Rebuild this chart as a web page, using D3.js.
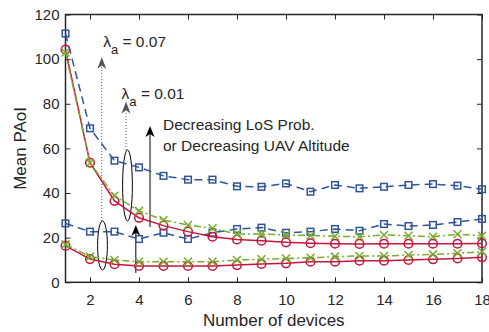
<!DOCTYPE html>
<html lang="en">
<head>
<meta charset="utf-8">
<title>Mean PAoI vs number of devices</title>
<script src="https://cdnjs.cloudflare.com/ajax/libs/d3/7.8.5/d3.min.js"></script>
<style>
  body { margin: 0; background: #fff; }
  text { font-family: "Liberation Sans", Arial, Helvetica, sans-serif; fill: #262626; }
</style>
</head>
<body>
<svg id="chart" width="489" height="332"></svg>
<script>
// number of devices (x)
var devices = [1, 2, 3, 4, 5, 6, 7, 8, 9, 10, 11, 12, 13, 14, 15, 16, 17, 18];

// lambda_a = 0.07 (upper group)
var blueHigh  = [111.5, 69, 54.5, 51.5, 47.7, 46, 46, 43, 42.8, 44.3, 40.6, 43.6, 42.1, 42.8, 43.6, 44, 43.3, 41.7];
var redHigh   = [104.3, 53.6, 36.5, 28.9, 25.4, 22.7, 20.4, 19.2, 18.6, 17.9, 17.5, 17.3, 17.2, 17.3, 17.3, 17.3, 17.3, 17.4];
var greenHigh = [103, 53.5, 38.8, 32, 27.9, 25.7, 24.2, 21.6, 21.6, 21.2, 21, 20.6, 20.4, 21.2, 20.9, 20.4, 21.5, 20.9];

// lambda_a = 0.01 (lower group)
var blueLow   = [26.4, 22.7, 22.7, 19.4, 22.2, 19.4, 22.2, 23.9, 24.5, 22.2, 22.7, 23.9, 23.1, 26.1, 25.2, 25.7, 27, 28.4];
var redLow    = [16.3, 10.4, 8.1, 7.3, 7.3, 7.3, 7.3, 7.7, 8.2, 8.5, 9.2, 9.2, 9.7, 9.7, 10, 10.3, 10.7, 11.2];
var greenLow  = [17, 11.5, 10, 9.2, 9.2, 9.2, 9.2, 10, 10.3, 10.7, 11, 11.5, 11.8, 11.8, 12.2, 12.5, 13, 13.7];

var xTicks = [2, 4, 6, 8, 10, 12, 14, 16, 18];
var yTicks = [0, 20, 40, 60, 80, 100, 120];

var svg = d3.select("#chart"),
    plotLeft = 65.5, plotRight = 482, plotTop = 14.5, plotBottom = 282.3,
    x = d3.scaleLinear().domain([1, 18]).range([plotLeft, plotRight]),
    y = d3.scaleLinear().domain([0, 120]).range([plotBottom, plotTop]);

var axisColor = "#262626";

// axes, ticks pointing inward like matlab
svg.append("g")
    .attr("transform", "translate(0," + plotBottom + ")")
    .call(d3.axisBottom(x).tickValues(xTicks).tickSizeInner(-5).tickSizeOuter(0).tickPadding(12))
    .call(function (g) { g.select(".domain").remove(); });
svg.append("g")
    .attr("transform", "translate(0," + plotTop + ")")
    .call(d3.axisTop(x).tickValues(xTicks).tickSizeInner(-5).tickSizeOuter(0).tickFormat(""))
    .call(function (g) { g.select(".domain").remove(); });
svg.append("g")
    .attr("transform", "translate(" + plotLeft + ",0)")
    .call(d3.axisLeft(y).tickValues(yTicks).tickSizeInner(-5).tickSizeOuter(0).tickPadding(6))
    .call(function (g) { g.select(".domain").remove(); });
svg.append("g")
    .attr("transform", "translate(" + plotRight + ",0)")
    .call(d3.axisRight(y).tickValues(yTicks).tickSizeInner(-5).tickSizeOuter(0).tickFormat(""))
    .call(function (g) { g.select(".domain").remove(); });

svg.selectAll(".tick line").attr("stroke", axisColor).attr("stroke-width", 1);
svg.selectAll(".tick text").style("font-size", "15px").attr("fill", axisColor);

svg.append("rect")
    .attr("x", plotLeft).attr("y", plotTop)
    .attr("width", plotRight - plotLeft).attr("height", plotBottom - plotTop)
    .attr("fill", "none").attr("stroke", axisColor).attr("stroke-width", 1.5);

svg.append("text")
    .attr("x", (plotLeft + plotRight) / 2).attr("y", 326)
    .attr("text-anchor", "middle")
    .style("font-size", "17px")
    .text("Number of devices");

svg.append("text")
    .attr("transform", "translate(26," + ((plotTop + plotBottom) / 2) + ") rotate(-90)")
    .attr("text-anchor", "middle")
    .style("font-size", "17px")
    .text("Mean PAoI");

// annotations (data coordinates)
function ellipse(cx, cy, rx, ry) {
  svg.append("ellipse")
    .attr("cx", x(cx)).attr("cy", y(cy))
    .attr("rx", x(1 + rx) - x(1)).attr("ry", y(0) - y(ry))
    .attr("fill", "none").attr("stroke", "#000").attr("stroke-width", 1);
}

function arrowHead(xv, yTip, color, w, len) {
  var px = x(xv), py = y(yTip);
  svg.append("path")
    .attr("d", "M" + px + "," + py +
               "L" + (px + w / 2) + "," + (py + len) +
               "L" + px + "," + (py + len * 0.72) +
               "L" + (px - w / 2) + "," + (py + len) + "Z")
    .attr("fill", color);
}

function dottedArrow(xv, y0, y1) {
  svg.append("line")
    .attr("x1", x(xv)).attr("x2", x(xv))
    .attr("y1", y(y0)).attr("y2", y(y1) + 10)
    .attr("stroke", "#555").attr("stroke-width", 1)
    .attr("stroke-dasharray", "1,2");
  arrowHead(xv, y1, "#555", 9, 12);
}

function solidArrow(xv, y0, y1) {
  svg.append("line")
    .attr("x1", x(xv)).attr("x2", x(xv))
    .attr("y1", y(y0)).attr("y2", y(y1) + 6)
    .attr("stroke", "#000").attr("stroke-width", 1);
  arrowHead(xv, y1, "#000", 9, 11);
}

ellipse(3.53, 43.4, 0.2, 15.9);
ellipse(2.51, 16.5, 0.2, 11);
dottedArrow(2.48, 27.5, 101);
dottedArrow(3.47, 59.3, 81);
solidArrow(3.87, 4.2, 25.7);
solidArrow(4.45, 24.8, 70);

function lambdaLabel(xv, yv, val) {
  var t = svg.append("text")
    .attr("x", x(xv)).attr("y", y(yv))
    .style("font-size", "15.5px");
  t.append("tspan").text("\u03bb");
  t.append("tspan").attr("dy", 7).style("font-size", "13px").text("a");
  t.append("tspan").attr("dy", -7).text(" = " + val);
}
lambdaLabel(2.54, 105.6, "0.07");
lambdaLabel(3.29, 82.1, "0.01");

svg.append("text")
    .attr("x", x(4.98)).attr("y", 130)
    .style("font-size", "15.5px")
    .text("Decreasing LoS Prob.");
svg.append("text")
    .attr("x", x(4.98)).attr("y", 150.5)
    .style("font-size", "15.5px")
    .text("or Decreasing UAV Altitude");

// series
var blue = "#2f5597", red = "#c4153c", green = "#77ac30";

function drawSeries(values, color, dash, marker) {
  var pts = devices.map(function (d, i) { return [d, values[i]]; });
  var line = d3.line().x(function (p) { return x(p[0]); }).y(function (p) { return y(p[1]); });
  svg.append("path")
    .datum(pts)
    .attr("d", line)
    .attr("fill", "none")
    .attr("stroke", color)
    .attr("stroke-width", 1.5)
    .attr("stroke-dasharray", dash);

  var g = svg.append("g").attr("fill", "none").attr("stroke", color).attr("stroke-width", 1.5);
  pts.forEach(function (p) {
    var px = x(p[0]), py = y(p[1]);
    if (marker === "square") {
      g.append("rect").attr("x", px - 3.3).attr("y", py - 3.3).attr("width", 6.6).attr("height", 6.6);
    } else if (marker === "circle") {
      g.append("circle").attr("cx", px).attr("cy", py).attr("r", 4.3);
    } else {
      g.append("path").attr("d", "M" + (px - 4) + "," + (py - 4) + "L" + (px + 4) + "," + (py + 4) +
                                 "M" + (px - 4) + "," + (py + 4) + "L" + (px + 4) + "," + (py - 4));
    }
  });
}

drawSeries(blueHigh, blue, "8,5", "square");
drawSeries(blueLow, blue, "8,5", "square");
drawSeries(redHigh, red, null, "circle");
drawSeries(redLow, red, null, "circle");
drawSeries(greenHigh, green, "7,3,2,3", "x");
drawSeries(greenLow, green, "7,3,2,3", "x");
</script>
</body>
</html>
